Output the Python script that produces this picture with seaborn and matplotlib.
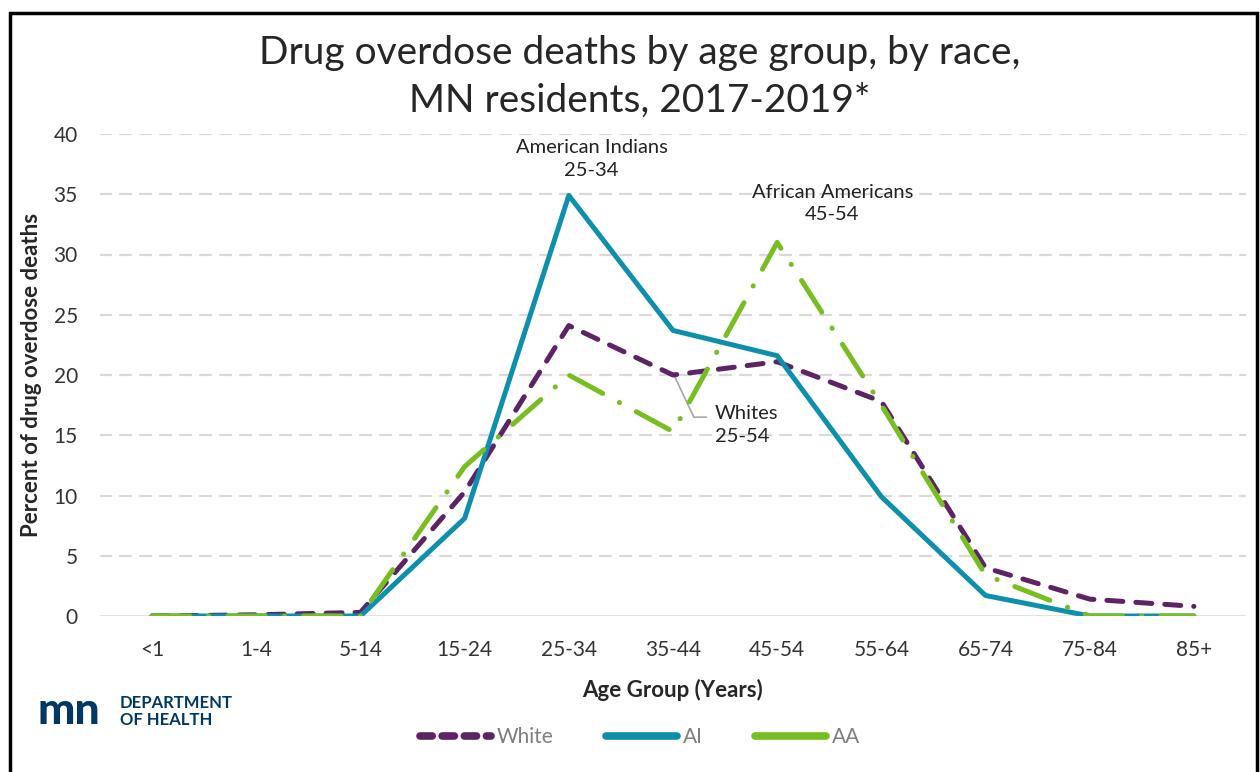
import pandas as pd
import matplotlib.pyplot as plt
import seaborn as sns
from matplotlib.patches import Rectangle
from matplotlib.lines import Line2D

# Data
age_groups = ['<1', '1-4', '5-14', '15-24', '25-34', '35-44', '45-54', '55-64', '65-74', '75-84', '85+']
white = [0.0, 0.1, 0.3, 10.3, 24.1, 20.0, 21.1, 17.8, 4.0, 1.4, 0.8]
ai = [0.0, 0.0, 0.0, 8.1, 34.9, 23.7, 21.6, 9.9, 1.7, 0.0, 0.0]
aa = [0.0, 0.0, 0.0, 12.4, 20.0, 15.3, 31.0, 17.5, 3.4, 0.0, 0.0]
races = ['White', 'AI', 'AA']
colors = {'White': '#5c2465', 'AI': '#0e90ad', 'AA': '#78be21'}

rows = []
for race, vals in zip(races, [white, ai, aa]):
    for age, v in zip(age_groups, vals):
        rows.append({'age': age, 'pct': v, 'race': race})
df = pd.DataFrame(rows)

sns.set_style('white')
plt.rcParams['font.family'] = ['Lato', 'DejaVu Sans']
plt.rcParams['lines.dash_capstyle'] = 'round'
plt.rcParams['lines.solid_capstyle'] = 'round'

fig = plt.figure(figsize=(12.6, 7.72), dpi=100)
ax = fig.add_axes([100 / 1260, 1 - 616 / 772, 1146 / 1260, (616 - 134) / 772])

for y in range(5, 45, 5):
    ax.axhline(y, color='#d9d9d9', lw=1.6, ls=(0, (5, 4)), zorder=0)
ax.axhline(0, color='#d9d9d9', lw=1.8, zorder=0)

sns.lineplot(data=df, x='age', y='pct', hue='race', style='race', palette=colors,
             dashes={'White': (3.2, 2.6), 'AI': '', 'AA': (7.5, 3.8, 0.05, 3.8)},
             hue_order=races, style_order=races, sort=False, lw=3.6, ax=ax, legend=False)

ax.set_xlim(-0.5, 10.5)
ax.set_ylim(0, 40)
ax.set_yticks(range(0, 45, 5))
sns.despine(ax=ax, left=True, bottom=True)
ax.tick_params(axis='both', labelsize=15, colors='#333333', length=0)
ax.tick_params(axis='x', pad=17)
ax.tick_params(axis='y', pad=16)
ax.set_xlabel('Age Group (Years)', fontsize=16, fontweight='bold', labelpad=14)
ax.set_ylabel('Percent of drug overdose deaths', fontsize=16, fontweight='bold', labelpad=8)

# annotations
ax.text(4.22, 36.3, 'American Indians\n25-34', ha='center', va='bottom', fontsize=14.5,
        linespacing=1.4, color='#222222')
ax.text(6.53, 32.6, 'African Americans\n45-54', ha='center', va='bottom', fontsize=14.5,
        linespacing=1.4, color='#222222')
ax.text(5.4, 14.2, 'Whites\n25-54', ha='left', va='bottom', fontsize=14.5,
        linespacing=1.4, color='#222222')
ax.plot([5.02, 5.2, 5.32], [19.8, 16.5, 16.5], color='#a6a6a6', lw=1.2, zorder=1)

fig.suptitle('Drug overdose deaths by age group, by race,\nMN residents, 2017-2019*',
             x=0.508, y=0.955, fontsize=28, linespacing=1.4)

# legend
handles = [Line2D([], [], color=colors['White'], lw=5.5, dashes=(1.6, 1.3)),
           Line2D([], [], color=colors['AI'], lw=5.5),
           Line2D([], [], color=colors['AA'], lw=5.5)]
fig.legend(handles, ['White', 'AI', 'AA'], loc='center', bbox_to_anchor=(0.508, 0.045),
           ncol=3, frameon=False, fontsize=15, labelcolor='#7f7f7f', handlelength=3.4,
           columnspacing=2.5, handletextpad=0.3)

# MDH logo text
fig.text(38 / 1260, 1 - 711 / 772, 'mn', fontsize=32, fontweight='black', color='#003865',
         va='center', ha='left')
fig.text(120 / 1260, 1 - 703 / 772, 'DEPARTMENT', fontsize=12, fontweight='bold', color='#003865',
         va='center', ha='left')
fig.text(120 / 1260, 1 - 720 / 772, 'OF HEALTH', fontsize=12, fontweight='bold', color='#003865',
         va='center', ha='left')

# outer frame
fig.patches.append(Rectangle((10 / 1260, -0.05), 1247 / 1260, 1.05 - 13 / 772, transform=fig.transFigure,
                             fill=False, edgecolor='black', lw=2.5))

plt.savefig('out.png', dpi=100)
